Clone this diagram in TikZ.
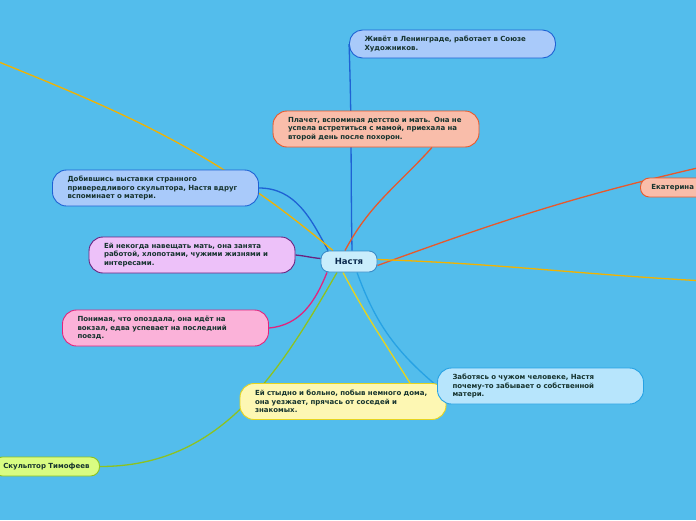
\documentclass[tikz,border=0pt]{standalone}
\usepackage{fontspec}
\setmainfont{DejaVu Sans}
\usetikzlibrary{positioning}

\definecolor{sky}{HTML}{53BDEC}
\definecolor{ink}{HTML}{16332E}
\definecolor{navy}{HTML}{0B2A4E}
\definecolor{blueFill}{HTML}{A9CAFA}
\definecolor{blueLine}{HTML}{1E62D4}
\definecolor{salmonFill}{HTML}{F9BDAA}
\definecolor{salmonLine}{HTML}{E8582B}
\definecolor{lilacFill}{HTML}{EDC1F9}
\definecolor{lilacLine}{HTML}{6A2280}
\definecolor{centreFill}{HTML}{C9EDFC}
\definecolor{centreLine}{HTML}{3B8DC9}
\definecolor{pinkFill}{HTML}{FBB2D9}
\definecolor{pinkLine}{HTML}{E2247D}
\definecolor{lemonFill}{HTML}{FDF7B3}
\definecolor{lemonLine}{HTML}{E6D41E}
\definecolor{cyanFill}{HTML}{B7E5FC}
\definecolor{cyanLine}{HTML}{27A2E4}
\definecolor{limeFill}{HTML}{D9FC82}
\definecolor{limeLine}{HTML}{8DC21F}
\definecolor{amber}{HTML}{F2B300}

\pgfdeclarelayer{links}
\pgfsetlayers{links,main}

\begin{document}
\begin{tikzpicture}[x=1pt,y=-1pt,
  idea/.style={draw, line width=0.9pt, rounded corners=14, minimum height=36,
    text width=176, inner xsep=15, inner ysep=0, align=left, text=ink,
    font=\fontsize{7}{8.7}\selectfont\bfseries},
  small/.style={draw, line width=0.9pt, rounded corners=9, minimum height=19,
    inner xsep=10, inner ysep=0, text=ink, font=\fontsize{7}{8.7}\selectfont\bfseries},
  link/.style={line width=1.3pt}]
  \useasboundingbox (0,0) rectangle (696,520);

  % Draw the central node
  \node[draw, line width=0.9pt, rounded corners=8, minimum width=56, minimum height=21,
    fill=centreFill, draw=centreLine, text=navy,
    font=\fontsize{8.5}{10}\selectfont\bfseries] (nastya) at (349,261.5) {Настя};

  % Draw the boxes round it
  \node[idea, minimum height=28, rounded corners=13, fill=blueFill, draw=blueLine]
    (living) at (452.5,44) {Живёт в Ленинграде, работает в Союзе\\Художников.};
  \node[idea, fill=salmonFill, draw=salmonLine] (weeping) at (376,129)
    {Плачет, вспоминая детство и мать. Она не\\успела встретиться с мамой, приехала на\\второй день после похорон.};
  \node[idea, fill=blueFill, draw=blueLine] (exhibition) at (155.5,188)
    {Добившись выставки странного\\привередливого скульптора, Настя вдруг\\вспоминает о матери.};
  \node[idea, fill=lilacFill, draw=lilacLine] (busy) at (192,255)
    {Ей некогда навещать мать, она занята\\работой, хлопотами, чужими жизнями и\\интересами.};
  \node[idea, fill=pinkFill, draw=pinkLine] (late) at (165.5,328)
    {Понимая, что опоздала, она идёт на\\вокзал, едва успевает на последний\\поезд.};
  \node[idea, fill=lemonFill, draw=lemonLine] (ashamed) at (343,401.5)
    {Ей стыдно и больно, побыв немного дома,\\она уезжает, прячась от соседей и\\знакомых.};
  \node[idea, fill=cyanFill, draw=cyanLine] (caring) at (540.5,386)
    {Заботясь о чужом человеке, Настя\\почему-то забывает о собственной\\матери.};

  % Draw the two boxes cut by the edges
  \node[small, anchor=east, fill=limeFill, draw=limeLine] (sculptor) at (100,466.5) {Скульптор Тимофеев};
  \node[small, anchor=west, inner xsep=11, fill=salmonFill, draw=salmonLine] (ekaterina) at (640,187.5) {Екатерина};

  % Ends of the lines that leave the picture
  \coordinate (farleft) at (-6,60);
  \coordinate (farright) at (706,166);
  \coordinate (farlow) at (706,281);

  % Draw the links behind the boxes
  \begin{pgfonlayer}{links}
    \fill[sky] (0,0) rectangle (696,520);
    \draw[link, blueLine] ([xshift=3]nastya.north) to[out=91,in=-88] (living.west);
    \draw[link, salmonLine] ([xshift=-4]nastya.north) to[out=62,in=-132] ([xshift=56]weeping.south);
    \draw[link, blueLine] ([xshift=-21]nastya.north) to[out=118,in=0] (exhibition.east);
    \draw[link, amber] ([xshift=-16]nastya.north) to[out=140,in=-22] (farleft);
    \draw[link, lilacLine] ([yshift=3]nastya.west) to[out=175,in=-5] (busy.east);
    \draw[link, salmonLine] ([yshift=-4]nastya.east) to[out=20,in=-167] (farright);
    \draw[link, amber] ([yshift=2]nastya.east) to[out=-2,in=177] (farlow);
    \draw[link, pinkLine] ([xshift=-22]nastya.south) to[out=-112,in=5] (late.east);
    \draw[link, limeLine] ([xshift=-12]nastya.south) to[out=-120,in=0] (sculptor.east);
    \draw[link, lemonLine] ([xshift=-6]nastya.south) to[out=-62,in=122] ([xshift=67]ashamed.north);
    \draw[link, cyanLine] ([xshift=8]nastya.south) to[out=-70,in=140] (caring.west);
  \end{pgfonlayer}
\end{tikzpicture}
\end{document}
